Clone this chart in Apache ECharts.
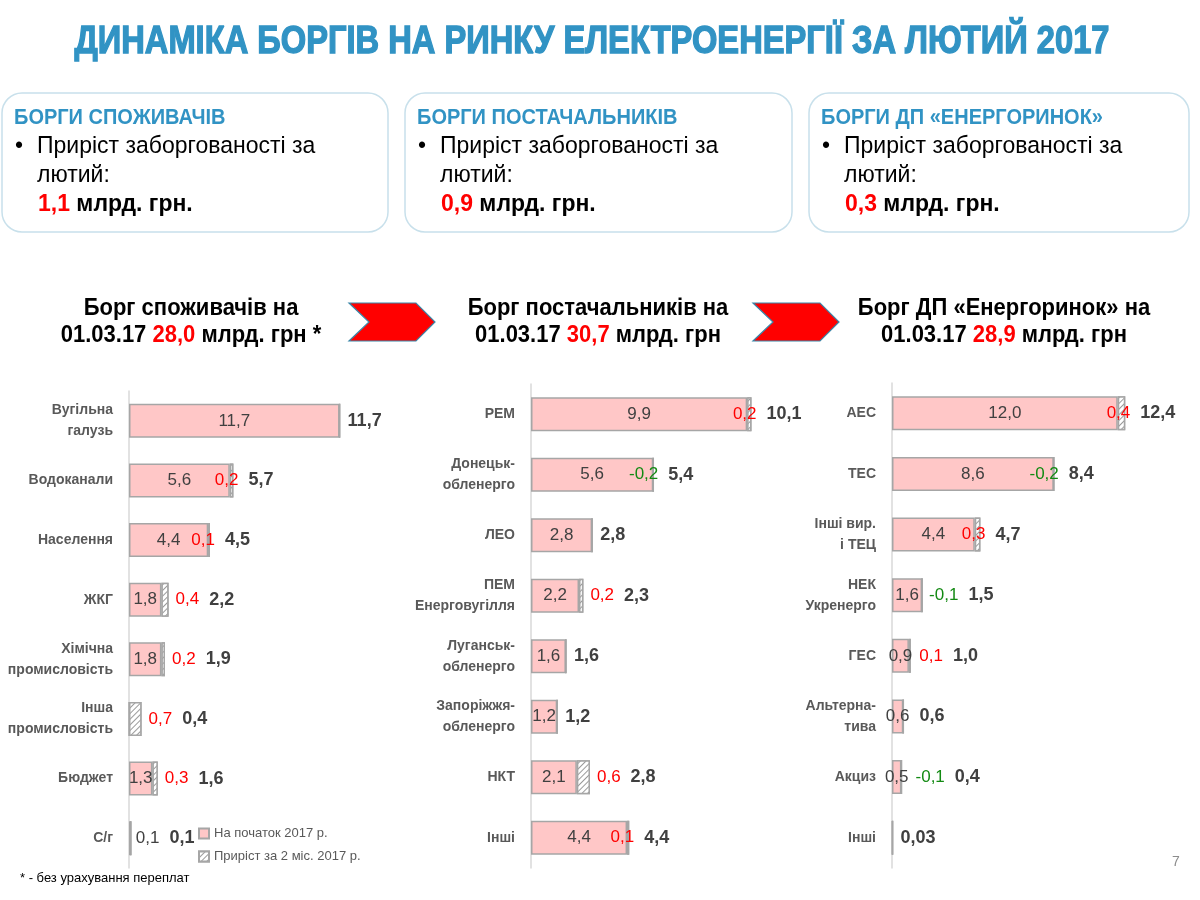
<!DOCTYPE html>
<html>
<head>
<meta charset="utf-8">
<script src="https://cdn.jsdelivr.net/npm/echarts@6/dist/echarts.min.js"></script>
<style>
  html, body { margin: 0; padding: 0; background: #fff; }
  #main { width: 1200px; height: 900px; }
</style>
</head>
<body>
<div id="main"></div>
<script>
// борги споживачів
const consumerCats = ['Вугільна\nгалузь', 'Водоканали', 'Населення', 'ЖКГ', 'Хімічна\nпромисловість', 'Інша\nпромисловість', 'Бюджет', 'С/г']
const consumerStart = [11.7, 5.6, 4.4, 1.8, 1.8, 0, 1.3, 0.1]
const consumerGrowth = [null, 0.2, 0.1, 0.4, 0.2, 0.7, 0.3, null]
const consumerTotal = [11.7, 5.7, 4.5, 2.2, 1.9, 0.4, 1.6, 0.1]

// борги постачальників
const supplierCats = ['РЕМ', 'Донецьк-\nобленерго', 'ЛЕО', 'ПЕМ\nЕнерговугілля', 'Луганськ-\nобленерго', 'Запоріжжя-\nобленерго', 'НКТ', 'Інші']
const supplierStart = [9.9, 5.6, 2.8, 2.2, 1.6, 1.2, 2.1, 4.4]
const supplierGrowth = [0.2, -0.2, null, 0.2, null, null, 0.6, 0.1]
const supplierTotal = [10.1, 5.4, 2.8, 2.3, 1.6, 1.2, 2.8, 4.4]

// борги ДП «Енергоринок»
const marketCats = ['АЕС', 'ТЕС', 'Інші вир.\nі ТЕЦ', 'НЕК\nУкренерго', 'ГЕС', 'Альтерна-\nтива', 'Акциз', 'Інші']
const marketStart = [12.0, 8.6, 4.4, 1.6, 0.9, 0.6, 0.5, 0.03]
const marketGrowth = [0.4, -0.2, 0.3, -0.1, 0.1, null, -0.1, null]
const marketTotal = [12.4, 8.4, 4.7, 1.5, 1.0, 0.6, 0.4, 0.03]

// приріст за лютий і борг на 01.03.17
const februaryGrowth = ['1,1', '0,9', '0,3']
const debtOnDate = ['28,0', '30,7', '28,9']

const FONT = '"Liberation Sans", Arial, sans-serif'
const PINK = '#ffc7c7'
const EDGE = '#a6a6a6'
const BLUE = '#3193c4'

const panels = [
  { cats: consumerCats, start: consumerStart, growth: consumerGrowth, total: consumerTotal,
    left: 129, top: 391, width: 252, height: 477, max: 14 },
  { cats: supplierCats, start: supplierStart, growth: supplierGrowth, total: supplierTotal,
    left: 531, top: 384, width: 262, height: 484, max: 12 },
  { cats: marketCats, start: marketStart, growth: marketGrowth, total: marketTotal,
    left: 892, top: 383, width: 301, height: 485, max: 16 }
]

const ctx = document.createElement('canvas').getContext('2d')
function textWidth(t, font) {
  ctx.font = font
  return ctx.measureText(t).width
}

function fmt(v) {
  const s = (v !== 0 && Math.abs(v) < 0.1) ? v.toFixed(2) : v.toFixed(1)
  return s.replace('.', ',')
}

const valueFont = '17px ' + FONT
const totalFont = 'bold 18px ' + FONT

function label(x, y, text, align, font, fill) {
  return { type: 'text', x: x, y: y, style: { text: text, align: align, verticalAlign: 'middle', font: font, fill: fill } }
}

function makeLabels(p) {
  return function (params, api) {
    const k = params.dataIndex
    const start = p.start[k]
    const g = p.growth[k]
    const x0 = api.coord([0, k])[0]
    const y = api.coord([0, k])[1]
    const xs = api.coord([start, k])[0]
    const xe = api.coord([start + (g > 0 ? g : 0), k])[0]
    const children = []
    let cursor = xe
    let gap = 8

    if (start >= 0.05) {
      const t = fmt(start)
      const w = textWidth(t, valueFont)
      if (xs - x0 < 8) {
        children.push(label(xe + 5, y, t, 'left', valueFont, '#404040'))
        cursor = xe + 5 + w
        gap = 10
      } else {
        const cx = (x0 + xs) / 2
        children.push(label(cx, y, t, 'center', valueFont, '#404040'))
        if (cx + w / 2 > cursor) {
          cursor = cx + w / 2
          gap = 10
        }
      }
    }
    if (g != null) {
      const t = fmt(g)
      const color = g > 0 ? '#ff0000' : '#138a13'
      if (xs - x0 > 60) {
        children.push(label(xe + 5, y, t, 'right', valueFont, color))
        cursor = xe + 5
      } else {
        const left = Math.max(xe, cursor) + 7
        children.push(label(left, y, t, 'left', valueFont, color))
        cursor = left + textWidth(t, valueFont)
      }
      gap = 10
    }
    children.push(label(cursor + gap, y, fmt(p.total[k]), 'left', totalFont, '#404040'))
    return { type: 'group', children: children }
  }
}

const grid = [], xAxis = [], yAxis = [], series = []
panels.forEach((p, i) => {
  grid.push({ left: p.left, top: p.top, width: p.width, height: p.height })
  xAxis.push({ gridIndex: i, type: 'value', min: 0, max: p.max, show: false })
  yAxis.push({
    gridIndex: i,
    type: 'category',
    data: p.cats,
    inverse: true,
    axisLine: { show: true, lineStyle: { color: '#d9d9d9', width: 1.5 } },
    axisTick: { show: false },
    axisLabel: {
      interval: 0, margin: 16, fontFamily: FONT, fontWeight: 'bold',
      fontSize: 14, lineHeight: 21, color: '#595959'
    }
  })
  series.push({
    name: 'На початок 2017 р.',
    type: 'bar',
    xAxisIndex: i, yAxisIndex: i,
    stack: 'debt' + i,
    barWidth: 34,
    silent: true,
    itemStyle: { color: PINK, borderColor: EDGE, borderWidth: 1.5 },
    data: p.start
  })
  series.push({
    name: 'Приріст за 2 міс. 2017 р.',
    type: 'bar',
    xAxisIndex: i, yAxisIndex: i,
    stack: 'debt' + i,
    barWidth: 34,
    silent: true,
    itemStyle: {
      color: '#ffffff', borderColor: EDGE, borderWidth: 1.5,
      decal: {
        symbol: 'rect', symbolSize: 1, color: '#9a9a9a', backgroundColor: '#ffffff',
        dashArrayX: [1, 0], dashArrayY: [1, 3], rotation: -Math.PI / 4
      }
    },
    data: p.growth.map(v => (v > 0 ? v : 0))
  })
  series.push({
    type: 'custom',
    xAxisIndex: i, yAxisIndex: i,
    silent: true,
    clip: false,
    z: 10,
    encode: { x: 0, y: 1 },
    renderItem: makeLabels(p),
    data: p.total.map((v, k) => [v, k])
  })
})

// заголовок, блоки, стрілки
const graphic = []
const titleText = 'ДИНАМІКА БОРГІВ НА РИНКУ ЕЛЕКТРОЕНЕРГІЇ ЗА ЛЮТИЙ 2017'
const titleFont = 'bold 34px ' + FONT
graphic.push({
  type: 'text', x: 592, y: 42,
  scaleX: 1035 / textWidth(titleText, titleFont), scaleY: 1.12,
  style: {
    text: titleText, font: titleFont, fill: BLUE, stroke: BLUE, lineWidth: 1.2,
    align: 'center', verticalAlign: 'middle'
  }
})

const boxes = [
  { x: 2, w: 386, title: 'БОРГИ СПОЖИВАЧІВ' },
  { x: 405, w: 387, title: 'БОРГИ ПОСТАЧАЛЬНИКІВ' },
  { x: 809, w: 380, title: 'БОРГИ ДП «ЕНЕРГОРИНОК»' }
]
const stretch = 1.06
const boxFont = '23px ' + FONT
boxes.forEach((b, i) => {
  const tx = b.x + 12
  graphic.push({
    type: 'rect',
    shape: { x: b.x, y: 93, width: b.w, height: 139, r: 20 },
    style: { fill: '#fff', stroke: '#c8e0eb', lineWidth: 1.5 }
  })
  graphic.push({
    type: 'text', x: tx, y: 118, scaleY: stretch,
    style: { text: b.title, font: 'bold 20px ' + FONT, fill: BLUE, verticalAlign: 'middle' }
  })
  graphic.push({
    type: 'text', x: tx + 1, y: 146, scaleY: stretch,
    style: { text: '•', font: boxFont, fill: '#000', verticalAlign: 'middle' }
  })
  graphic.push({
    type: 'text', x: tx + 23, y: 146, scaleY: stretch,
    style: { text: 'Приріст заборгованості за', font: boxFont, fill: '#000', verticalAlign: 'middle' }
  })
  graphic.push({
    type: 'text', x: tx + 23, y: 175, scaleY: stretch,
    style: { text: 'лютий:', font: boxFont, fill: '#000', verticalAlign: 'middle' }
  })
  graphic.push({
    type: 'text', x: tx + 24, y: 204, scaleY: stretch,
    style: {
      text: '{r|' + februaryGrowth[i] + '} млрд. грн.', font: 'bold 23px ' + FONT, fill: '#000',
      verticalAlign: 'middle', rich: { r: { fill: '#ff0000', font: 'bold 23px ' + FONT } }
    }
  })
})

const headers = [
  { cx: 191, line1: 'Борг споживачів на', tail: ' млрд. грн *' },
  { cx: 598, line1: 'Борг постачальників на', tail: ' млрд. грн' },
  { cx: 1004, line1: 'Борг ДП «Енергоринок» на', tail: ' млрд. грн' }
]
const headFont = 'bold 22px ' + FONT
headers.forEach((h, i) => {
  graphic.push({
    type: 'text', x: h.cx, y: 308, scaleY: 1.08,
    style: { text: h.line1, font: headFont, fill: '#000', align: 'center', verticalAlign: 'middle' }
  })
  graphic.push({
    type: 'text', x: h.cx, y: 335, scaleY: 1.08,
    style: {
      text: '01.03.17 {r|' + debtOnDate[i] + '}' + h.tail, font: headFont, fill: '#000',
      align: 'center', verticalAlign: 'middle', rich: { r: { fill: '#ff0000', font: headFont } }
    }
  })
})

;[349, 753].forEach(x => {
  graphic.push({
    type: 'polygon',
    shape: { points: [[x, 303], [x + 67, 303], [x + 86, 322], [x + 67, 341], [x, 341], [x + 20, 322]] },
    style: { fill: '#ff0000', stroke: '#3a86a8', lineWidth: 1.2 }
  })
})

graphic.push({
  type: 'text', x: 20, y: 878,
  style: { text: '* - без урахування переплат', font: '13px ' + FONT, fill: '#000', verticalAlign: 'middle' }
})
graphic.push({
  type: 'text', x: 1172, y: 862,
  style: { text: '7', font: '14px ' + FONT, fill: '#8c8c8c', verticalAlign: 'middle' }
})

const chart = echarts.init(document.getElementById('main'))
chart.setOption({
  animation: false,
  grid: grid,
  xAxis: xAxis,
  yAxis: yAxis,
  legend: {
    data: ['На початок 2017 р.', 'Приріст за 2 міс. 2017 р.'],
    orient: 'vertical',
    left: 193,
    top: 822,
    itemWidth: 10,
    itemHeight: 10,
    itemGap: 10,
    icon: 'rect',
    textStyle: { fontFamily: FONT, fontSize: 13, color: '#595959' }
  },
  graphic: graphic,
  series: series
})
</script>
</body>
</html>
